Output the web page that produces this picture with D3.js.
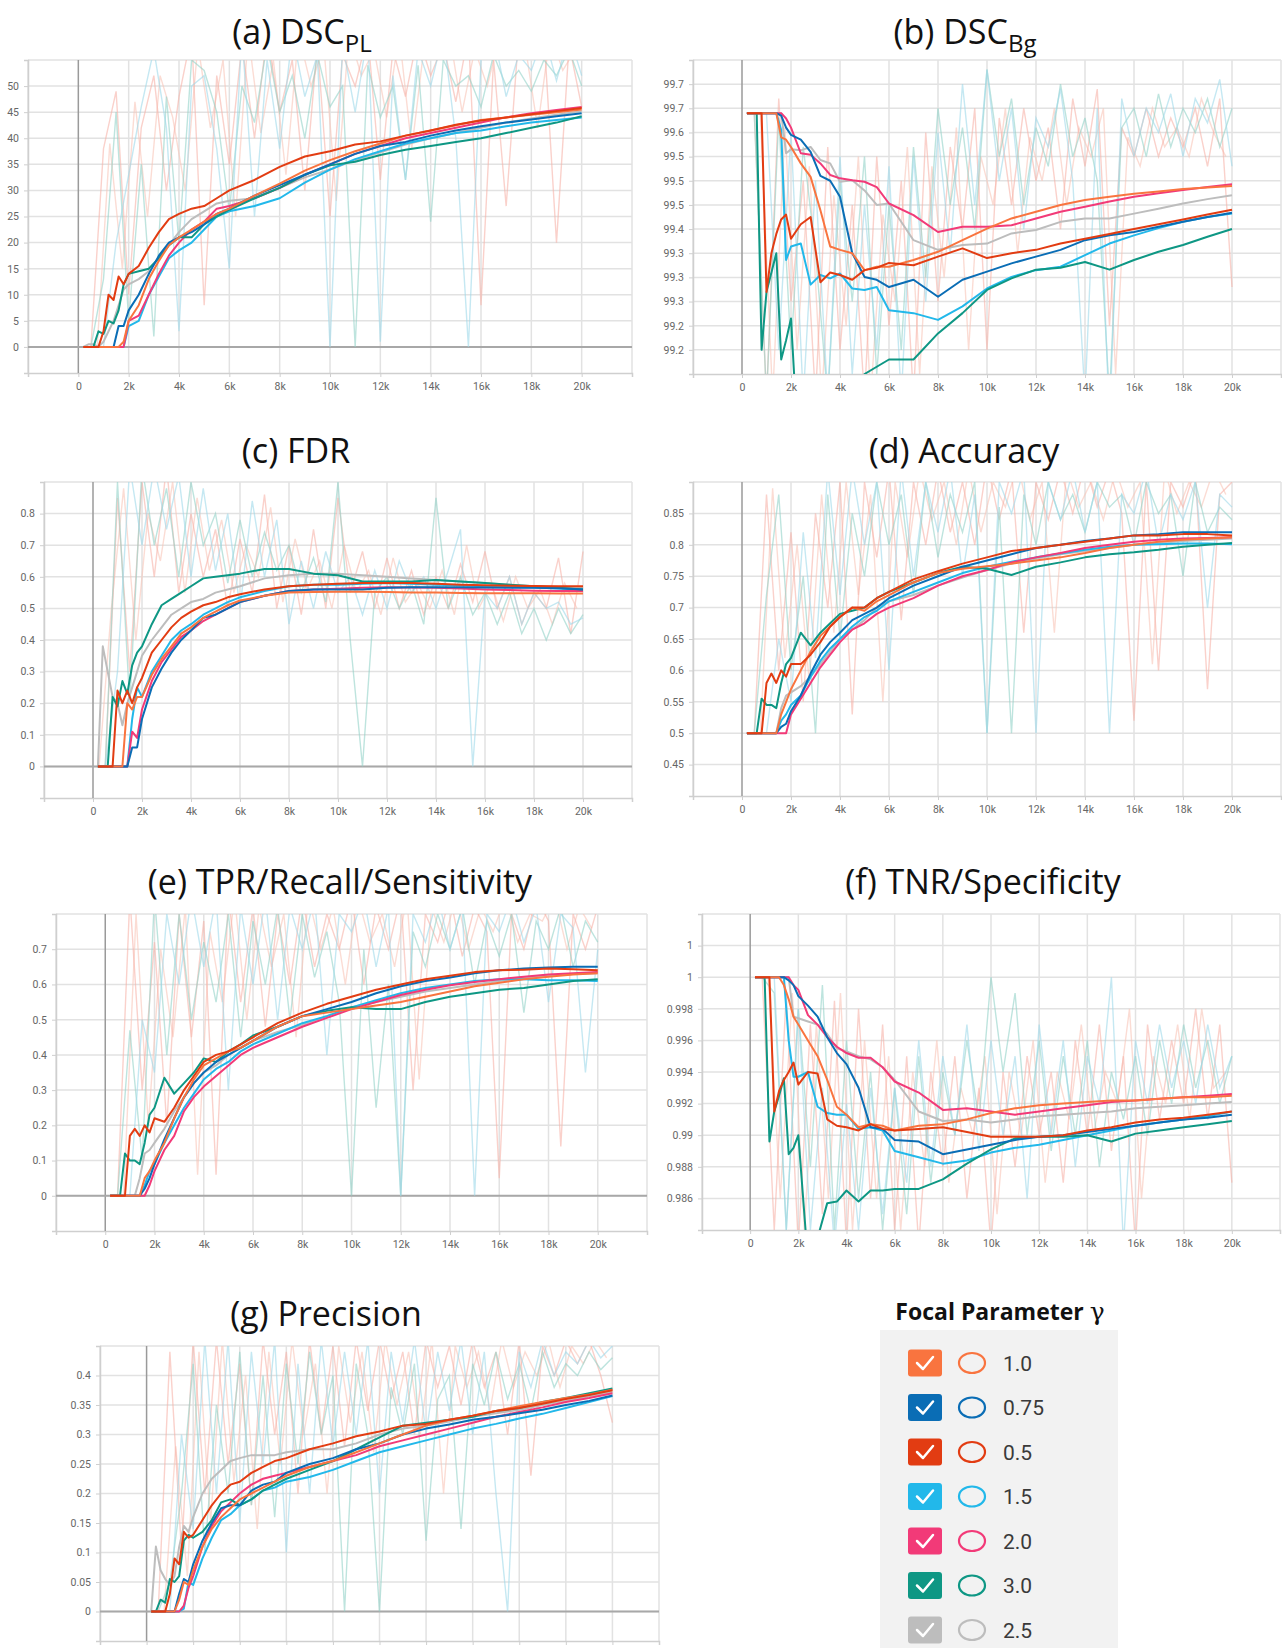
<!DOCTYPE html>
<html lang="en">
<head>
<meta charset="UTF-8">
<title>Focal parameter sweep</title>
<script src="https://cdn.jsdelivr.net/npm/d3@7"></script>
<style>
  body { margin: 0; background: #fff; }
  svg { display: block; }
  .tick text { font-family: Roboto, "Liberation Sans", sans-serif; fill: #666; font-size: 10.5px; }
</style>
</head>
<body>
<svg id="chart" width="1282" height="1648"></svg>
<script>
// training steps (in thousands) of the smoothed curves
const steps = [0.2,0.4,0.6,0.8,1.0,1.2,1.4,1.6,1.8,2.0,2.4,2.8,3.2,3.6,4,4.5,5,5.5,6,7,8,9,10,11,12,13,14,15,16,17,18,19,20];
// steps of the faint raw curves (two interleaved grids)
const rawSteps = [0.5,1,1.5,2,2.5,3,3.5,4,4.5,5,5.5,6,6.5,7,7.5,8,8.5,9,9.5,10,10.5,11,11.5,12,12.5,13,13.5,14,14.5,15,15.5,16,16.5,17,17.5,18,18.5,19,19.5,20];
const rawSteps2 = [0.25,0.75,1.25,1.75,2.25,2.75,3.25,3.75,4.25,4.75,5.25,5.75,6.25,6.75,7.25,7.75,8.25,8.75,9.25,9.75,10.25,10.75,11.25,11.75,12.25,12.75,13.25,13.75,14.25,14.75,15.25,15.75,16.25,16.75,17.25,17.75,18.25,18.75,19.25,19.75];

const xTicks = [-2,0,2,4,6,8,10,12,14,16,18,20,22];
const xLabels = ["","0","2k","4k","6k","8k","10k","12k","14k","16k","18k","20k",""];

// legend
const gammas = ["1.0","0.75","0.5","1.5","2.0","3.0","2.5"];

// (a) DSC_PL
const dscPLTicks = [0,5,10,15,20,25,30,35,40,45,50];
const dscPL_10  = [0,0,0,0,0,0,0,0,1,5,8,13,16.5,19.5,21,22.5,24,25.5,26.5,29,31.3,33.8,35.8,37.5,39,40.5,41.5,42.5,43.5,44,44.5,45,45.5];
const dscPL_075 = [0,0,0,0,0,0,0,4,4,7,10,14,17.5,20,21,22,23.5,25.5,26.5,29,31,33,35,37,38.5,39.3,40.5,41.5,42.3,43,43.6,44.2,44.8];
const dscPL_05  = [0,0,0,0,3,10,9,13.5,12,14,15.5,19,22,24.5,25.5,26.5,27,28.5,30,32,34.5,36.5,37.5,38.8,39.4,40.5,41.5,42.6,43.4,44,44.6,45.2,45.8];
const dscPL_15  = [0,0,0,0,0,0,0,0,0,4,5,10,13.5,17,18.5,20,22.5,25,26,27,28.5,31.5,34,36,37.5,39,40,41,41.5,42.3,43,43.5,44];
const dscPL_20  = [0,0,0,0,0,0,0,0,0,5,6,10,14,17.5,20,22.5,24,26.5,27,28.5,30.5,33,35,37,38.5,40,41,42,43,44,44.8,45.4,46];
const dscPL_30  = [0,0,0,3,2.5,5,4.5,7,12,14,14.5,15,17,19.5,21,21,23.5,25,26.3,28.5,30.5,33,34.8,35.5,36.8,37.8,38.5,39.3,40,41,42,43,44.2];
const dscPL_25  = [0,0.5,0.5,0,1,3,5,8,11,12,13,14.5,17,19.5,22,24.5,26,27.5,28,28.5,30.5,32.5,34,35.8,37.3,38.8,40,41,42,43,43.8,44.5,45.2];
const dscPL_rawPink = [0,38,49,10,42,52,30,48,60,8,52,35,58,40,60,45,55,30,58,25,56,50,60,32,57,48,60,52,58,47,60,8,55,27,60,56,60,20,58,46];
const dscPL_rawBlue = [0,0,20,33,46,57,42,3,50,52,38,15,60,25,55,38,60,48,56,0,58,45,60,1,52,32,57,50,60,40,0,55,60,48,56,53,60,51,60,52];
const dscPL_rawTeal = [0,13,45,5,35,2,48,20,55,53,45,26,50,43,58,45,52,40,56,46,50,0,54,44,50,32,54,24,55,50,52,46,56,50,53,49,55,52,57,50];
const dscPL_rawPeach = [0,0,39,15,47,25,52,44,30,58,42,55,25,60,41,55,33,60,50,58,28,60,52,57,44,60,38,58,55,60,45,57,50,60,56,58,42,60,53,57];

// (b) DSC_Bg
const dscBgTicks = [99.20,99.25,99.30,99.35,99.40,99.45,99.50,99.55,99.60,99.65,99.70,99.75];
const dscBgLabels = ["99.2","99.2","99.3","99.3","99.3","99.4","99.5","99.5","99.5","99.6","99.7","99.7"];
const dscBg_10  = [99.69,99.69,99.69,99.69,99.69,99.69,99.69,99.64,99.635,99.62,99.586,99.558,99.489,99.414,99.407,99.40,99.365,99.372,99.372,99.386,99.403,99.427,99.451,99.472,99.486,99.50,99.51,99.517,99.523,99.528,99.533,99.536,99.539];
const dscBg_075 = [99.69,99.69,99.69,99.69,99.69,99.69,99.69,99.685,99.66,99.645,99.635,99.61,99.56,99.55,99.517,99.40,99.351,99.345,99.33,99.345,99.31,99.345,99.362,99.379,99.393,99.407,99.427,99.437,99.444,99.455,99.465,99.475,99.484];
const dscBg_05  = [99.69,99.69,99.69,99.69,99.32,99.40,99.44,99.47,99.48,99.43,99.46,99.475,99.34,99.36,99.355,99.345,99.365,99.37,99.38,99.375,99.393,99.41,99.39,99.40,99.407,99.42,99.43,99.44,99.45,99.46,99.47,99.48,99.49];
const dscBg_15  = [99.69,99.69,99.69,99.69,99.69,99.69,99.69,99.655,99.386,99.414,99.42,99.335,99.355,99.348,99.358,99.327,99.324,99.33,99.282,99.276,99.262,99.29,99.327,99.351,99.365,99.372,99.396,99.42,99.437,99.452,99.465,99.475,99.482];
const dscBg_20  = [99.69,99.69,99.69,99.69,99.69,99.69,99.69,99.69,99.679,99.66,99.607,99.604,99.586,99.562,99.555,99.551,99.548,99.537,99.503,99.479,99.444,99.455,99.455,99.458,99.472,99.486,99.496,99.507,99.517,99.524,99.531,99.537,99.543];
const dscBg_30  = [99.69,99.69,99.69,99.2,99.32,99.36,99.40,99.18,99.22,99.265,98.9,98.9,98.9,98.9,98.9,98.9,99.15,99.165,99.18,99.18,99.234,99.276,99.324,99.348,99.366,99.37,99.382,99.366,99.386,99.403,99.417,99.434,99.45];
const dscBg_25  = [99.69,99.69,99.69,99.69,99.69,99.69,99.69,99.69,99.607,99.615,99.613,99.62,99.593,99.586,99.548,99.551,99.53,99.50,99.503,99.427,99.407,99.417,99.42,99.441,99.448,99.465,99.472,99.472,99.482,99.492,99.503,99.512,99.52];
const dscBg_rawPink = [99.69,99.1,99.72,99.3,99.55,99.1,99.62,99.2,99.5,99.1,99.6,99.25,99.55,99.1,99.65,99.3,99.62,99.45,99.7,99.2,99.68,99.5,99.7,99.55,99.66,99.45,99.72,99.58,99.74,99.25,99.66,99.6,99.7,99.6,99.68,99.62,99.7,99.58,99.72,99.33];
const dscBg_rawBlue = [99.69,99.69,99.2,99.65,99.1,99.55,99.1,99.6,99.15,99.5,99.2,99.58,99.1,99.6,99.3,99.65,99.4,99.75,99.5,99.78,99.55,99.7,99.45,99.68,99.62,99.74,99.55,99.1,99.7,99.05,99.72,99.6,99.7,99.65,99.73,99.6,99.72,99.67,99.76,99.58];
const dscBg_rawTeal = [99.69,99.1,99.68,99.2,99.62,99.4,99.1,99.55,99.3,99.6,99.15,99.5,99.2,99.62,99.35,99.7,99.5,99.66,99.45,99.78,99.6,99.72,99.5,99.66,99.58,99.75,99.6,99.68,99.55,99.1,99.66,99.7,99.6,99.73,99.62,99.7,99.65,99.72,99.62,99.7];
const dscBg_rawPeach = [99.69,99.69,99.1,99.66,99.2,99.58,99.1,99.52,99.25,99.6,99.1,99.48,99.3,99.62,99.15,99.58,99.35,99.66,99.2,99.6,99.5,99.7,99.4,99.64,99.55,99.7,99.5,99.66,99.6,99.7,99.15,99.64,99.58,99.7,99.62,99.66,99.6,99.72,99.65,99.6];

// (c) FDR
const fdrTicks = [0,0.1,0.2,0.3,0.4,0.5,0.6,0.7,0.8];
const fdr_10  = [0,0,0,0,0,0,0.20,0.18,0.22,0.22,0.29,0.34,0.38,0.42,0.44,0.47,0.49,0.51,0.525,0.54,0.55,0.552,0.553,0.553,0.552,0.55,0.55,0.549,0.548,0.548,0.548,0.547,0.547];
const fdr_075 = [0,0,0,0,0,0,0,0.06,0.06,0.15,0.25,0.31,0.36,0.40,0.43,0.47,0.48,0.50,0.52,0.54,0.555,0.56,0.56,0.56,0.565,0.567,0.567,0.567,0.566,0.565,0.565,0.564,0.56];
const fdr_05  = [0,0,0,0,0.24,0.20,0.24,0.20,0.25,0.28,0.36,0.40,0.44,0.47,0.49,0.51,0.52,0.535,0.545,0.56,0.57,0.575,0.578,0.58,0.58,0.58,0.578,0.575,0.573,0.572,0.571,0.57,0.57];
const fdr_15  = [0,0,0,0,0,0,0,0.15,0.25,0.22,0.30,0.35,0.40,0.43,0.45,0.48,0.50,0.52,0.535,0.555,0.57,0.575,0.575,0.578,0.58,0.578,0.575,0.573,0.57,0.568,0.566,0.563,0.56];
const fdr_20  = [0,0,0,0,0,0,0,0.11,0.09,0.18,0.27,0.33,0.37,0.41,0.43,0.46,0.48,0.50,0.52,0.54,0.555,0.56,0.562,0.565,0.567,0.566,0.565,0.563,0.56,0.558,0.556,0.555,0.555];
const fdr_30  = [0,0,0,0.22,0.19,0.27,0.23,0.32,0.36,0.38,0.45,0.51,0.53,0.55,0.57,0.595,0.60,0.605,0.61,0.625,0.625,0.61,0.605,0.585,0.585,0.585,0.59,0.585,0.58,0.575,0.57,0.565,0.56];
const fdr_25  = [0,0.38,0.30,0.22,0.20,0.13,0.20,0.25,0.30,0.35,0.40,0.44,0.48,0.50,0.52,0.53,0.55,0.56,0.57,0.595,0.605,0.61,0.61,0.605,0.60,0.595,0.59,0.585,0.58,0.575,0.57,0.565,0.565];
const fdr_rawPink = [0,0.85,0.3,0.9,0.6,0.95,0.55,0.8,0.6,0.75,0.5,0.72,0.55,0.86,0.5,0.7,0.48,0.75,0.5,0.85,0.55,0.68,0.5,0.66,0.5,0.62,0.48,0.6,0.5,0.64,0.52,0.68,0.5,0.6,0.45,0.55,0.5,0.66,0.42,0.68];
const fdr_rawBlue = [0,0.3,0.95,0.7,0.95,0.75,0.92,0.6,0.88,0.62,0.8,0.5,0.84,0.6,0.78,0.45,0.65,0.5,0.68,0.55,0.6,0.48,0.62,0.5,0.65,0.55,0.6,0.5,0.62,0.75,0,0.55,0.5,0.6,0.45,0.55,0.5,0.52,0.45,0.47];
const fdr_rawTeal = [0,0.9,0.2,0.95,0.7,0.88,0.6,0.9,0.7,0.8,0.58,0.78,0.6,0.74,0.62,0.7,0.55,0.66,0.52,0.9,0.4,0,0.55,0.6,0.5,0.58,0.45,0.85,0.5,0.6,0.48,0.55,0.45,0.55,0.42,0.5,0.4,0.5,0.42,0.48];
const fdr_rawPeach = [0,0.5,0.88,0.4,0.8,0.65,0.9,0.55,0.85,0.62,0.78,0.55,0.7,0.6,0.82,0.52,0.72,0.56,0.65,0.5,0.7,0.55,0.62,0.48,0.66,0.52,0.58,0.5,0.62,0.48,0.7,0.5,0.58,0.46,0.6,0.5,0.56,0.45,0.58,0.5];

// (d) Accuracy
const accTicks = [0.45,0.5,0.55,0.6,0.65,0.7,0.75,0.8,0.85];
const acc_10  = [0.5,0.5,0.5,0.5,0.5,0.5,0.5,0.53,0.55,0.57,0.60,0.63,0.655,0.67,0.685,0.70,0.695,0.71,0.72,0.74,0.755,0.762,0.766,0.77,0.775,0.78,0.787,0.795,0.80,0.805,0.808,0.81,0.812];
const acc_075 = [0.5,0.5,0.5,0.5,0.5,0.5,0.5,0.51,0.515,0.535,0.56,0.595,0.625,0.645,0.66,0.68,0.69,0.70,0.715,0.735,0.75,0.765,0.775,0.785,0.795,0.80,0.806,0.81,0.815,0.817,0.82,0.82,0.82];
const acc_05  = [0.5,0.5,0.5,0.5,0.58,0.595,0.58,0.60,0.59,0.61,0.61,0.625,0.645,0.67,0.685,0.70,0.70,0.715,0.725,0.745,0.758,0.77,0.78,0.79,0.795,0.80,0.805,0.81,0.815,0.815,0.817,0.817,0.815];
const acc_15  = [0.5,0.5,0.5,0.5,0.5,0.5,0.5,0.52,0.53,0.545,0.56,0.59,0.615,0.635,0.65,0.67,0.685,0.695,0.71,0.725,0.74,0.755,0.765,0.773,0.78,0.786,0.792,0.797,0.80,0.801,0.802,0.802,0.801];
const acc_20  = [0.5,0.5,0.5,0.5,0.5,0.5,0.5,0.5,0.5,0.53,0.555,0.58,0.605,0.625,0.645,0.665,0.675,0.69,0.70,0.715,0.735,0.75,0.76,0.772,0.78,0.787,0.795,0.80,0.805,0.808,0.81,0.811,0.812];
const acc_30  = [0.5,0.5,0.5,0.555,0.545,0.545,0.54,0.58,0.61,0.62,0.66,0.64,0.66,0.675,0.69,0.695,0.70,0.715,0.725,0.74,0.755,0.765,0.762,0.752,0.765,0.772,0.78,0.785,0.788,0.792,0.797,0.80,0.803];
const acc_25  = [0.5,0.5,0.5,0.5,0.5,0.5,0.5,0.54,0.56,0.565,0.575,0.59,0.61,0.63,0.65,0.665,0.68,0.70,0.71,0.72,0.735,0.748,0.76,0.77,0.778,0.785,0.79,0.795,0.80,0.803,0.806,0.808,0.81];
const acc_rawPink = [0.5,0.88,0.6,0.82,0.55,0.85,0.7,0.9,0.53,0.9,0.78,0.92,0.68,0.9,0.8,0.92,0.82,0.9,0.8,0.93,0.84,0.92,0.66,0.9,0.84,0.92,0.85,0.93,0.86,0.92,0.85,0.52,0.9,0.6,0.9,0.86,0.92,0.57,0.88,0.9];
const acc_rawBlue = [0.5,0.5,0.65,0.55,0.82,0.62,0.92,0.72,0.92,0.8,0.9,0.6,0.92,0.75,0.9,0.82,0.92,0.75,0.88,0.5,0.9,0.85,0.92,0.5,0.9,0.84,0.92,0.82,0.9,0.5,0.88,0.85,0.92,0.8,0.88,0.84,0.9,0.7,0.88,0.86];
const acc_rawTeal = [0.5,0.72,0.88,0.6,0.75,0.5,0.88,0.65,0.85,0.75,0.9,0.8,0.88,0.72,0.9,0.78,0.88,0.82,0.9,0.5,0.86,0.5,0.88,0.8,0.9,0.84,0.88,0.82,0.9,0.86,0.88,0.8,0.9,0.85,0.88,0.75,0.9,0.82,0.86,0.84];
const acc_rawPeach = [0.5,0.5,0.89,0.62,0.8,0.58,0.88,0.66,0.9,0.72,0.88,0.55,0.9,0.78,0.92,0.84,0.9,0.8,0.92,0.82,0.9,0.86,0.93,0.84,0.9,0.66,0.92,0.86,0.9,0.84,0.92,0.86,0.9,0.61,0.92,0.85,0.9,0.86,0.92,0.88];

// (e) TPR / Recall / Sensitivity
const tprTicks = [0,0.1,0.2,0.3,0.4,0.5,0.6,0.7];
const tpr_10  = [0,0,0,0,0,0,0,0.05,0.07,0.10,0.15,0.22,0.28,0.33,0.37,0.39,0.41,0.42,0.44,0.48,0.51,0.52,0.53,0.54,0.55,0.565,0.58,0.595,0.605,0.615,0.622,0.628,0.632];
const tpr_075 = [0,0,0,0,0,0,0,0.02,0.05,0.09,0.16,0.22,0.28,0.32,0.35,0.38,0.40,0.42,0.44,0.48,0.51,0.53,0.55,0.575,0.595,0.61,0.62,0.632,0.64,0.645,0.648,0.65,0.65];
const tpr_05  = [0,0,0,0,0.17,0.19,0.17,0.20,0.18,0.22,0.21,0.25,0.30,0.34,0.38,0.40,0.41,0.43,0.45,0.49,0.52,0.545,0.565,0.585,0.60,0.615,0.625,0.635,0.64,0.642,0.645,0.643,0.64];
const tpr_15  = [0,0,0,0,0,0,0,0.03,0.07,0.09,0.15,0.20,0.25,0.29,0.33,0.36,0.38,0.41,0.43,0.46,0.49,0.51,0.535,0.555,0.575,0.59,0.60,0.61,0.615,0.615,0.612,0.612,0.61];
const tpr_20  = [0,0,0,0,0,0,0,0,0.03,0.07,0.13,0.17,0.24,0.28,0.31,0.34,0.37,0.40,0.42,0.45,0.48,0.505,0.53,0.55,0.57,0.585,0.598,0.607,0.615,0.622,0.628,0.632,0.635];
const tpr_30  = [0,0,0,0.12,0.10,0.10,0.09,0.15,0.23,0.25,0.335,0.29,0.32,0.35,0.39,0.38,0.41,0.43,0.455,0.48,0.51,0.525,0.535,0.53,0.53,0.55,0.565,0.575,0.585,0.59,0.60,0.61,0.615];
const tpr_25  = [0,0,0,0,0,0,0.05,0.12,0.13,0.15,0.19,0.24,0.28,0.32,0.35,0.37,0.40,0.42,0.44,0.465,0.485,0.51,0.535,0.55,0.565,0.58,0.59,0.60,0.61,0.62,0.625,0.63,0.632];
const tpr_rawPink = [0,0.85,0.3,0.72,0.2,0.8,0.45,0.78,0.06,0.85,0.55,0.82,0.48,0.8,0.6,0.85,0.65,0.8,0.7,0.85,0.6,0.82,0.7,0.85,0.3,0.8,0.72,0.85,0.68,0.82,0.75,0.05,0.8,0.7,0.85,0.78,0.14,0.8,0.7,0.82];
const tpr_rawBlue = [0,0,0.5,0.35,0.8,0.6,0.85,0.65,0.85,0.3,0.82,0.6,0.85,0.5,0.82,0.7,0.85,0.4,0.8,0.75,0.85,0.65,0.82,0,0.8,0.72,0.85,0.7,0.82,0,0.8,0.75,0.85,0.72,0.82,0.55,0.8,0.76,0.35,0.7];
const tpr_rawTeal = [0,0.47,0.1,0.85,0.4,0.8,0.5,0.72,0.55,0.8,0.45,0.78,0.6,0.82,0.5,0.8,0.62,0.75,0.55,0,0.7,0.25,0.6,0,0.75,0.65,0.8,0.7,0.82,0.6,0.78,0.68,0.8,0.52,0.78,0.7,0.82,0.65,0.78,0.72];
const tpr_rawPeach = [0,0,0.8,0.2,0.7,0.45,0.82,0.06,0.75,0.55,0.85,0.5,0.82,0.65,0.8,0.45,0.85,0.7,0.82,0.6,0.85,0.72,0.8,0.65,0.85,0.33,0.82,0.72,0.85,0.7,0.82,0.75,0.85,0.72,0.8,0.78,0.85,0.7,0.82,0.76];

// (f) TNR / Specificity
const tnrTicks = [0.986,0.988,0.990,0.992,0.994,0.996,0.998,1.000,1.002];
const tnrLabels = ["0.986","0.988","0.99","0.992","0.994","0.996","0.998","1","1"];
const tnr_10  = [1,1,1,1,1,1,0.9995,0.9986,0.9975,0.9970,0.9960,0.9950,0.9935,0.9918,0.9913,0.9905,0.9907,0.9906,0.9903,0.9906,0.9907,0.9910,0.9914,0.9917,0.9919,0.9920,0.9921,0.9922,0.9922,0.9923,0.9924,0.9924,0.9925];
const tnr_075 = [1,1,1,1,1,1,1,0.9998,0.9995,0.9988,0.9982,0.9975,0.9962,0.9952,0.9945,0.9930,0.9905,0.9904,0.9897,0.9896,0.9888,0.9891,0.9894,0.9897,0.9899,0.9900,0.9902,0.9904,0.9906,0.9908,0.9910,0.9911,0.9913];
const tnr_05  = [1,1,1,1,0.9915,0.9928,0.9935,0.9940,0.9946,0.9932,0.9940,0.9939,0.9910,0.9906,0.9905,0.9903,0.9907,0.9904,0.9903,0.9904,0.9905,0.9902,0.9899,0.9899,0.9899,0.9900,0.9903,0.9905,0.9908,0.9910,0.9911,0.9913,0.9915];
const tnr_15  = [1,1,1,1,1,1,1,0.9960,0.9937,0.9937,0.9940,0.9918,0.9914,0.9913,0.9913,0.9904,0.9905,0.9903,0.9890,0.9886,0.9882,0.9884,0.9889,0.9892,0.9894,0.9897,0.9900,0.9903,0.9906,0.9908,0.9910,0.9912,0.9915];
const tnr_20  = [1,1,1,1,1,1,1,1,0.9995,0.9992,0.9976,0.9970,0.9962,0.9956,0.9952,0.9949,0.9949,0.9943,0.9934,0.9927,0.9916,0.9917,0.9915,0.9913,0.9915,0.9917,0.9919,0.9921,0.9922,0.9923,0.9924,0.9925,0.9926];
const tnr_30  = [1,1,1,0.9896,0.9915,0.9925,0.9936,0.9888,0.9892,0.9900,0.9820,0.9835,0.9857,0.9858,0.9865,0.9858,0.9865,0.9865,0.9866,0.9866,0.9872,0.9882,0.9891,0.9898,0.9899,0.9899,0.9900,0.9896,0.9901,0.9903,0.9905,0.9907,0.9909];
const tnr_25  = [1,1,1,1,1,1,1,1,0.9975,0.9974,0.9972,0.9970,0.9964,0.9955,0.9953,0.9950,0.9948,0.9943,0.9935,0.9915,0.9909,0.9910,0.9908,0.9910,0.9912,0.9913,0.9914,0.9915,0.9917,0.9918,0.9919,0.9920,0.9921];
const tnr_rawPink = [1,0.984,0.999,0.983,0.997,0.985,0.9985,0.983,0.998,0.986,0.997,0.984,0.995,0.983,0.994,0.988,0.995,0.986,0.993,0.983,0.994,0.988,0.995,0.99,0.994,0.987,0.996,0.99,0.997,0.989,0.995,0.983,0.997,0.991,0.996,0.992,0.998,0.991,0.997,0.987];
const tnr_rawBlue = [1,1,0.984,0.998,0.984,0.993,0.983,0.992,0.984,0.993,0.985,0.993,0.987,0.996,0.988,0.995,0.99,0.997,0.989,0.996,0.99,0.995,0.986,0.997,0.99,0.996,0.988,0.995,0.992,1,0.983,0.996,0.992,0.997,0.993,0.996,0.992,0.997,0.993,0.995];
const tnr_rawTeal = [1,0.999,0.984,0.998,0.988,0.9995,0.984,0.996,0.986,0.994,0.984,0.993,0.985,0.995,0.987,0.994,0.99,0.996,0.991,1,0.994,0.999,0.99,0.996,0.989,0.995,0.99,0.996,0.988,0.994,0.991,0.995,0.99,0.996,0.992,0.997,0.993,0.996,0.992,0.995];
const tnr_rawPeach = [1,1,0.986,0.999,0.984,0.997,0.986,0.999,0.984,0.996,0.986,0.995,0.984,0.994,0.988,0.996,0.987,0.993,0.99,0.995,0.985,0.994,0.99,0.996,0.987,0.994,0.991,0.997,0.99,0.994,0.992,0.998,0.986,0.995,0.992,0.997,0.991,0.998,0.993,0.994];

// (g) Precision
const precTicks = [0,0.05,0.1,0.15,0.2,0.25,0.3,0.35,0.4];
const prec_10  = [0,0,0,0,0,0,0.02,0.05,0.045,0.07,0.11,0.14,0.16,0.175,0.19,0.20,0.21,0.22,0.23,0.245,0.255,0.27,0.285,0.30,0.315,0.325,0.332,0.34,0.348,0.355,0.362,0.368,0.376];
const prec_075 = [0,0,0,0,0,0,0.03,0.055,0.05,0.08,0.12,0.15,0.175,0.18,0.18,0.205,0.215,0.22,0.235,0.25,0.26,0.275,0.285,0.30,0.31,0.317,0.325,0.33,0.336,0.342,0.35,0.357,0.366];
const prec_05  = [0,0,0,0,0.03,0.09,0.08,0.135,0.125,0.13,0.155,0.18,0.20,0.215,0.22,0.235,0.245,0.255,0.26,0.275,0.285,0.297,0.305,0.315,0.318,0.325,0.332,0.34,0.345,0.352,0.36,0.367,0.375];
const prec_15  = [0,0,0,0,0,0,0,0.005,0.05,0.045,0.09,0.125,0.155,0.165,0.18,0.19,0.205,0.21,0.22,0.228,0.24,0.255,0.27,0.28,0.29,0.30,0.31,0.318,0.327,0.335,0.345,0.355,0.365];
const prec_20  = [0,0,0,0,0,0,0,0.01,0.04,0.06,0.11,0.145,0.17,0.185,0.20,0.215,0.225,0.23,0.235,0.245,0.255,0.265,0.28,0.29,0.30,0.31,0.32,0.33,0.338,0.346,0.355,0.362,0.37];
const prec_30  = [0,0,0.02,0.015,0.055,0.05,0.06,0.12,0.13,0.125,0.135,0.155,0.185,0.19,0.18,0.19,0.205,0.215,0.225,0.24,0.255,0.275,0.295,0.315,0.32,0.325,0.33,0.34,0.345,0.355,0.362,0.37,0.378];
const prec_25  = [0,0.11,0.07,0.055,0.045,0.06,0.11,0.145,0.135,0.16,0.20,0.225,0.24,0.255,0.26,0.265,0.265,0.265,0.27,0.275,0.275,0.285,0.30,0.31,0.315,0.322,0.33,0.336,0.342,0.35,0.357,0.365,0.372];
const prec_rawPink = [0,0.44,0.1,0.46,0.2,0.46,0.25,0.42,0.18,0.46,0.3,0.44,0.2,0.46,0.3,0.45,0.28,0.46,0.34,0.46,0.36,0.44,0.3,0.46,0.38,0.45,0.35,0.46,0.38,0.44,0.3,0.46,0.23,0.45,0.4,0.46,0.42,0.46,0.4,0.32];
const prec_rawBlue = [0,0,0.3,0.14,0.46,0.2,0.46,0.15,0.44,0.25,0.46,0.1,0.42,0.2,0.46,0.28,0.44,0.3,0.46,0.2,0.44,0.32,0.46,0.3,0.44,0.34,0.46,0.3,0.44,0.2,0,0.44,0.38,0.46,0.4,0.44,0.42,0.46,0.43,0.45];
const prec_rawTeal = [0,0.05,0.2,0.42,0.1,0.35,0.2,0.44,0.18,0.4,0.16,0.42,0.25,0.44,0.3,0.4,0,0.42,0.3,0,0.38,0.3,0.42,0.12,0.36,0.4,0.14,0.42,0.35,0.44,0.36,0.42,0.34,0.44,0.38,0.42,0.4,0.44,0.41,0.43];
const prec_rawPeach = [0,0,0.28,0.06,0.44,0.15,0.46,0.22,0.4,0.14,0.44,0.25,0.46,0.3,0.42,0.2,0.45,0.32,0.44,0.27,0.46,0.35,0.44,0.3,0.46,0.2,0.45,0.38,0.44,0.34,0.46,0.38,0.44,0.4,0.46,0.38,0.45,0.42,0.46,0.43];

const colors = {"1.0":"#f9743f","0.75":"#0a6db5","0.5":"#e23c12","1.5":"#22b8ea","2.0":"#f23a78","3.0":"#0e9784","2.5":"#bdbdbd"};
const rawColors = {pink:"#f6b3a8", blue:"#9fd8ea", teal:"#92d2c8", peach:"#f8c4b8"};
const drawOrder = ["2.5","1.5","2.0","3.0","0.75","1.0","0.5"];

const panels = [
  {key:"a", title:"(a) DSC", sub:"PL", tx:302, ty:44, left:28, right:632, top:60, bottom:373, yDomain:[-5,55],
   yTicks:dscPLTicks, yLabels:dscPLTicks.map(String),
   series:{"1.0":dscPL_10,"0.75":dscPL_075,"0.5":dscPL_05,"1.5":dscPL_15,"2.0":dscPL_20,"3.0":dscPL_30,"2.5":dscPL_25},
   raw:{pink:dscPL_rawPink, blue:dscPL_rawBlue, teal:dscPL_rawTeal, peach:dscPL_rawPeach}},
  {key:"b", title:"(b) DSC", sub:"Bg", tx:965, ty:44, left:693, right:1281, top:60, bottom:374, yDomain:[99.15,99.80],
   yTicks:dscBgTicks, yLabels:dscBgLabels,
   series:{"1.0":dscBg_10,"0.75":dscBg_075,"0.5":dscBg_05,"1.5":dscBg_15,"2.0":dscBg_20,"3.0":dscBg_30,"2.5":dscBg_25},
   raw:{pink:dscBg_rawPink, blue:dscBg_rawBlue, teal:dscBg_rawTeal, peach:dscBg_rawPeach}},
  {key:"c", title:"(c) FDR", sub:"", tx:296, ty:463, left:44, right:632, top:482, bottom:798, yDomain:[-0.1,0.9],
   yTicks:fdrTicks, yLabels:fdrTicks.map(String),
   series:{"1.0":fdr_10,"0.75":fdr_075,"0.5":fdr_05,"1.5":fdr_15,"2.0":fdr_20,"3.0":fdr_30,"2.5":fdr_25},
   raw:{pink:fdr_rawPink, blue:fdr_rawBlue, teal:fdr_rawTeal, peach:fdr_rawPeach}},
  {key:"d", title:"(d) Accuracy", sub:"", tx:964, ty:463, left:693, right:1281, top:482, bottom:796, yDomain:[0.4,0.9],
   yTicks:accTicks, yLabels:accTicks.map(String),
   series:{"1.0":acc_10,"0.75":acc_075,"0.5":acc_05,"1.5":acc_15,"2.0":acc_20,"3.0":acc_30,"2.5":acc_25},
   raw:{pink:acc_rawPink, blue:acc_rawBlue, teal:acc_rawTeal, peach:acc_rawPeach}},
  {key:"e", title:"(e) TPR/Recall/Sensitivity", sub:"", tx:340, ty:894, left:56, right:647, top:914, bottom:1231, yDomain:[-0.1,0.8],
   yTicks:tprTicks, yLabels:tprTicks.map(String),
   series:{"1.0":tpr_10,"0.75":tpr_075,"0.5":tpr_05,"1.5":tpr_15,"2.0":tpr_20,"3.0":tpr_30,"2.5":tpr_25},
   raw:{pink:tpr_rawPink, blue:tpr_rawBlue, teal:tpr_rawTeal, peach:tpr_rawPeach}},
  {key:"f", title:"(f) TNR/Specificity", sub:"", tx:983, ty:894, left:702, right:1280, top:914, bottom:1230, yDomain:[0.984,1.004],
   yTicks:tnrTicks, yLabels:tnrLabels,
   series:{"1.0":tnr_10,"0.75":tnr_075,"0.5":tnr_05,"1.5":tnr_15,"2.0":tnr_20,"3.0":tnr_30,"2.5":tnr_25},
   raw:{pink:tnr_rawPink, blue:tnr_rawBlue, teal:tnr_rawTeal, peach:tnr_rawPeach}},
  {key:"g", title:"(g) Precision", sub:"", tx:326, ty:1326, left:100, right:659, top:1346, bottom:1641, yDomain:[-0.05,0.45],
   yTicks:precTicks, yLabels:precTicks.map(String),
   series:{"1.0":prec_10,"0.75":prec_075,"0.5":prec_05,"1.5":prec_15,"2.0":prec_20,"3.0":prec_30,"2.5":prec_25},
   raw:{pink:prec_rawPink, blue:prec_rawBlue, teal:prec_rawTeal, peach:prec_rawPeach}}
];

const svg = d3.select("#chart");
const defs = svg.append("defs");

panels.forEach(p => {
  const x = d3.scaleLinear().domain([-2, 22]).range([p.left, p.right]);
  const y = d3.scaleLinear().domain(p.yDomain).range([p.bottom, p.top]);
  const g = svg.append("g");

  defs.append("clipPath").attr("id", "clip-" + p.key)
    .append("rect").attr("x", p.left).attr("y", p.top)
    .attr("width", p.right - p.left).attr("height", p.bottom - p.top);

  // grid
  g.append("g").selectAll("line").data(xTicks.filter(d => d !== 0)).join("line")
    .attr("x1", d => x(d)).attr("x2", d => x(d))
    .attr("y1", p.top).attr("y2", p.bottom)
    .attr("stroke", "#e2e2e2").attr("stroke-width", 1.5);
  g.append("g").selectAll("line").data(p.yTicks.concat([p.yDomain[1]])).join("line")
    .attr("x1", p.left).attr("x2", p.right)
    .attr("y1", d => y(d)).attr("y2", d => y(d))
    .attr("stroke", "#e2e2e2").attr("stroke-width", 1.5);

  // axes
  const yAxis = d3.axisLeft(y).tickValues(p.yTicks).tickSize(4).tickPadding(5)
    .tickFormat((d, i) => p.yLabels[i]);
  const ya = g.append("g").attr("transform", `translate(${p.left},0)`).call(yAxis);
  const xAxis = d3.axisBottom(x).tickValues(xTicks).tickSize(4).tickPadding(6)
    .tickFormat((d, i) => xLabels[i]);
  const xa = g.append("g").attr("transform", `translate(0,${p.bottom})`).call(xAxis);
  [ya, xa].forEach(a => {
    a.select(".domain").attr("stroke", "#cfcfcf").attr("stroke-width", 1.5);
    a.selectAll(".tick line").attr("stroke", "#cfcfcf");
  });

  // zero lines
  g.append("line").attr("x1", x(0)).attr("x2", x(0)).attr("y1", p.top).attr("y2", p.bottom)
    .attr("stroke", "#9a9a9a").attr("stroke-width", 1.5);
  if (p.yDomain[0] < 0) {
    g.append("line").attr("x1", p.left).attr("x2", p.right).attr("y1", y(0)).attr("y2", y(0))
      .attr("stroke", "#a8a8a8").attr("stroke-width", 2);
  }

  const plot = g.append("g").attr("clip-path", `url(#clip-${p.key})`);

  // faint raw curves
  const rawLine = d3.line().x((d, i) => x(rawSteps[i])).y(d => y(d));
  const rawLine2 = d3.line().x((d, i) => x(rawSteps2[i])).y(d => y(d));
  ["peach", "pink", "teal", "blue"].forEach(k => {
    plot.append("path").datum(p.raw[k]).attr("d", k === "peach" ? rawLine2 : rawLine)
      .attr("fill", "none").attr("stroke", rawColors[k])
      .attr("stroke-width", 1.4).attr("stroke-opacity", 0.6);
  });

  // smoothed curves
  const line = d3.line().x((d, i) => x(steps[i])).y(d => y(d));
  drawOrder.forEach(gm => {
    plot.append("path").datum(p.series[gm]).attr("d", line)
      .attr("fill", "none").attr("stroke", colors[gm])
      .attr("stroke-width", 2).attr("stroke-linejoin", "round");
  });

  // title
  const t = svg.append("text").attr("x", p.tx).attr("y", p.ty)
    .attr("text-anchor", "middle")
    .attr("font-family", "'Open Sans', 'Noto Sans', sans-serif")
    .attr("font-size", 34).attr("fill", "#111").text(p.title);
  if (p.sub) {
    t.append("tspan").attr("dy", 8).attr("font-size", 24).text(p.sub);
  }
});

// legend
const lg = svg.append("g");
const lt = lg.append("text").attr("x", 1000).attr("y", 1320).attr("text-anchor", "middle")
  .attr("font-family", "'Open Sans', 'Noto Sans', sans-serif").attr("font-weight", "bold")
  .attr("font-size", 23).attr("fill", "#111").text("Focal Parameter ");
lt.append("tspan").attr("font-family", "'DejaVu Serif', serif").attr("font-weight", "normal")
  .attr("font-size", 25).text("γ");
lg.append("rect").attr("x", 880).attr("y", 1330).attr("width", 238).attr("height", 330).attr("fill", "#f2f2f2");

const rowY = d3.scalePoint().domain(gammas).range([1363, 1630]);
const rows = lg.selectAll(".row").data(gammas).join("g")
  .attr("transform", d => `translate(0,${rowY(d)})`);
rows.append("rect").attr("x", 908).attr("y", -13.5).attr("width", 34).attr("height", 27).attr("rx", 3)
  .attr("fill", d => colors[d]);
rows.append("polyline").attr("points", "917,0 923,6 933,-6")
  .attr("fill", "none").attr("stroke", "#fff").attr("stroke-width", 2.5)
  .attr("stroke-linecap", "round").attr("stroke-linejoin", "round");
rows.append("ellipse").attr("cx", 972).attr("cy", 0).attr("rx", 13).attr("ry", 10)
  .attr("fill", "none").attr("stroke", d => colors[d]).attr("stroke-width", 2.2);
rows.append("text").attr("x", 1003).attr("y", 7.5)
  .attr("font-family", "Roboto, sans-serif").attr("font-size", 21).attr("fill", "#3a3a3a")
  .text(d => d);
</script>
</body>
</html>
